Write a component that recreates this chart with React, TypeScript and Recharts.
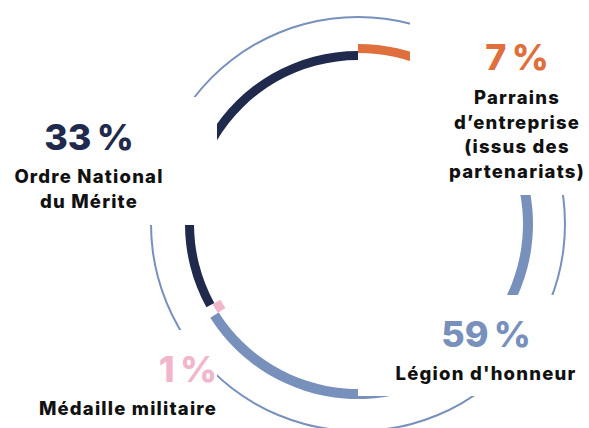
import { PieChart, Pie, Cell } from 'recharts';

const segmentNames = [
  'Parrains d’entreprise (issus des partenariats)',
  "Légion d'honneur",
  'Médaille militaire',
  'Ordre National du Mérite',
];
const segmentValues = [7, 59, 1, 33];
const segmentColors = ['#df6f3c', '#7890bc', '#f1b6cc', '#1f2a4d'];
const percentLabels = ['7\u202f%', '59\u202f%', '1\u202f%', '33\u202f%'];

const data = segmentNames.map((name, i) => ({ name, value: segmentValues[i] }));
const ringData = [{ name: 'ring', value: 1 }];

// each slice sits on its own radius, like in the original design
const radii = [
  [171, 180],
  [165, 175],
  [157, 166],
  [164, 173],
];

const CX = 358;
const CY = 224;

export default function App() {
  const font = 'Inter, "Noto Sans", sans-serif';
  return (
    <div
      style={{
        position: 'fixed',
        left: 0,
        top: 0,
        width: 589,
        height: 428,
        background: '#fff',
      }}
    >
      <PieChart width={589} height={428} margin={{ top: 0, right: 0, bottom: 0, left: 0 }}>
        <Pie
          data={ringData}
          dataKey="value"
          cx={CX}
          cy={CY}
          innerRadius={206}
          outerRadius={208}
          startAngle={90}
          endAngle={-270}
          stroke="none"
          fill="#7890bc"
          isAnimationActive={false}
        />
        {segmentNames.map((n, k) => (
          <Pie
            key={n}
            data={data}
            dataKey="value"
            cx={CX}
            cy={CY}
            innerRadius={radii[k][0]}
            outerRadius={radii[k][1]}
            startAngle={90}
            endAngle={-270}
            stroke="none"
            isAnimationActive={false}
          >
            {data.map((d, i) => (
              <Cell key={d.name} fill={i === k ? segmentColors[i] : 'none'} />
            ))}
          </Pie>
        ))}
      </PieChart>

      <svg
        width={589}
        height={428}
        style={{ position: 'absolute', left: 0, top: 0 }}
        fontFamily={font}
      >
        {/* white label boxes hiding parts of the rings */}
        <rect x={0} y={97} width={217} height={128} fill="#fff" />
        <rect x={410} y={0} width={179} height={195} fill="#fff" />
        <rect x={358} y={295} width={231} height={101} fill="#fff" />
        <rect x={0} y={330} width={217} height={98} fill="#fff" />

        <g textAnchor="middle" fontWeight={800} fontSize={36} style={{ letterSpacing: '-2px' }}>
          <text x={517} y={70} fill={segmentColors[0]}>{percentLabels[0]}</text>
          <text x={486} y={347} fill={segmentColors[1]}>{percentLabels[1]}</text>
          <text x={188} y={382} fill={segmentColors[2]}>{percentLabels[2]}</text>
          <text x={89} y={150} fill={segmentColors[3]}>{percentLabels[3]}</text>
        </g>

        <g textAnchor="middle" fontWeight={800} fontSize={18.5} letterSpacing={1.2} fill="#111">
          <text x={517} y={104}>Parrains</text>
          <text x={517} y={129}>d’entreprise</text>
          <text x={517} y={153}>(issus des</text>
          <text x={517} y={178}>partenariats)</text>
          <text x={486} y={380}>Légion d'honneur</text>
          <text x={128} y={415}>Médaille militaire</text>
          <text x={89} y={183}>Ordre National</text>
          <text x={89} y={208}>du Mérite</text>
        </g>
      </svg>
    </div>
  );
}
